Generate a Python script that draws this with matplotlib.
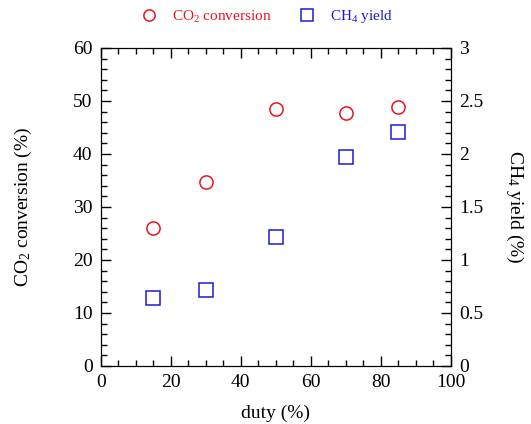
import matplotlib
matplotlib.use('Agg')
import matplotlib.pyplot as plt
from matplotlib.ticker import MultipleLocator

plt.rcParams['font.family'] = 'Liberation Serif'
plt.rcParams['mathtext.fontset'] = 'custom'
plt.rcParams['mathtext.rm'] = 'Liberation Serif'
plt.rcParams['mathtext.it'] = 'Liberation Serif:italic'

# data
duty = [15, 30, 50, 70, 85]
co2_conv = [26.1, 34.7, 48.4, 47.7, 48.8]
ch4_yield = [0.64, 0.715, 1.22, 1.97, 2.21]

fig = plt.figure(figsize=(5.31, 4.24), dpi=100)
ax = fig.add_axes([0.19, 0.137, 0.659, 0.75])
ax2 = ax.twinx()

l1, = ax.plot(duty, co2_conv, 'o', ms=9.5, mfc='none', mec='#e8141c', mew=1.1,
              label=r'CO$_2$ conversion')
l2, = ax2.plot(duty, ch4_yield, 's', ms=9.5, mfc='none', mec='#1a1ad8', mew=1.1,
               label=r'CH$_4$ yield')

ax.set_xlim(0, 100)
ax.set_ylim(0, 60)
ax2.set_ylim(0, 3)
ax.xaxis.set_major_locator(MultipleLocator(20))
ax.xaxis.set_minor_locator(MultipleLocator(5))
ax.yaxis.set_major_locator(MultipleLocator(10))
ax.yaxis.set_minor_locator(MultipleLocator(2))
ax2.yaxis.set_minor_locator(MultipleLocator(0.1))
ax2.set_yticks([0, 0.5, 1, 1.5, 2, 2.5, 3])
ax2.set_yticklabels(['0', '0.5', '1', '1.5', '2', '2.5', '3'])

ax.tick_params(which='both', direction='in', top=True, labelsize=14, width=1, pad=6)
ax.tick_params(which='major', length=7)
ax.tick_params(which='minor', length=4)
ax2.tick_params(which='both', direction='in', labelsize=14, width=1, pad=6)
ax2.tick_params(which='major', length=7)
ax2.tick_params(which='minor', length=4)

ax.set_xlabel('duty (%)', fontsize=14, labelpad=10)
ax.set_ylabel(r'CO$_2$ conversion (%)', fontsize=14, labelpad=28)
ax2.set_ylabel(r'CH$_4$ yield (%)', fontsize=14, rotation=270, labelpad=30)

leg = fig.legend(handles=[l1, l2], loc='center', bbox_to_anchor=(0.496, 0.96),
                 ncol=2, frameon=False, fontsize=11, handletextpad=0.5,
                 columnspacing=1.3, markerscale=0.85)
leg.get_texts()[0].set_color('#e8141c')
leg.get_texts()[1].set_color('#1a1ad8')

fig.savefig('out.png', dpi=100)
